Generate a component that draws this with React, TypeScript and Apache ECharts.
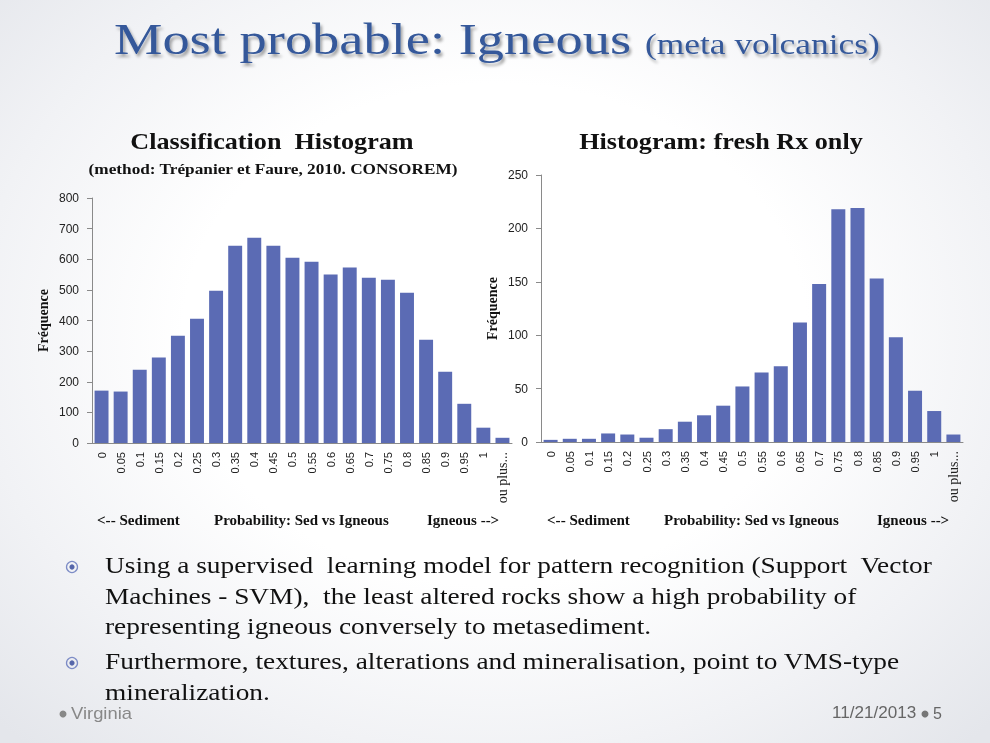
import React, { useEffect, useRef } from "react";
import * as echarts from "echarts";

const categories = [
  "0", "0.05", "0.1", "0.15", "0.2", "0.25", "0.3", "0.35", "0.4", "0.45", "0.5",
  "0.55", "0.6", "0.65", "0.7", "0.75", "0.8", "0.85", "0.9", "0.95", "1", "ou plus...",
];
const classificationCounts = [
  171, 168, 239, 279, 350, 406, 497, 644, 670, 644, 605,
  592, 550, 573, 540, 533, 491, 337, 233, 128, 50, 17,
];
const freshRxCounts = [
  2, 3, 3, 8, 7, 4, 12, 19, 25, 34, 52,
  65, 71, 112, 148, 218, 219, 153, 98, 48, 29, 7,
];
const leftTicks = { min: 0, max: 800, interval: 100 };
const rightTicks = { min: 0, max: 250, interval: 50 };

const bulletLines = [
  "Using a supervised  learning model for pattern recognition (Support  Vector",
  "Machines - SVM),  the least altered rocks show a high probability of",
  "representing igneous conversely to metasediment.",
  "Furthermore, textures, alterations and mineralisation, point to VMS-type",
  "mineralization.",
];

const SERIF = "'Liberation Serif', 'Times New Roman', serif";
const SANS = "'Liberation Sans', Arial, sans-serif";
const BAR = "#5b6bb4";
const AXIS = "#8a8a8a";

function xAxis(gridIndex: number) {
  return {
    type: "category" as const,
    gridIndex,
    data: categories,
    boundaryGap: true,
    axisLine: { lineStyle: { color: AXIS, width: 1 } },
    axisTick: { show: false },
    axisLabel: {
      interval: 0,
      rotate: 90,
      margin: 9,
      fontSize: 11,
      fontFamily: SANS,
      color: "#222",
      formatter: (v: string) => (v === "ou plus..." ? "{s|" + v + "}" : v),
      rich: { s: { fontFamily: SERIF, fontSize: 14, color: "#222" } },
    },
  };
}

function yAxis(gridIndex: number, t: { min: number; max: number; interval: number }) {
  return {
    type: "value" as const,
    gridIndex,
    min: t.min,
    max: t.max,
    interval: t.interval,
    name: "Fréquence",
    nameLocation: "middle" as const,
    nameGap: 42,
    nameTextStyle: { fontFamily: SERIF, fontWeight: "bold" as const, fontSize: 14, color: "#111" },
    axisLine: { show: true, lineStyle: { color: AXIS, width: 1 } },
    axisTick: { show: true, length: 5, lineStyle: { color: AXIS } },
    splitLine: { show: false },
    axisLabel: { margin: 13, fontSize: 12, fontFamily: SANS, color: "#222" },
  };
}

function txt(text: string, x: number, y: number, size: number, opts: any = {}) {
  return {
    type: "text",
    x,
    y,
    scaleX: opts.scaleX ?? 1,
    silent: true,
    style: {
      text,
      fontFamily: opts.family ?? SERIF,
      fontSize: size,
      fontWeight: opts.bold ? "bold" : "normal",
      fill: opts.color ?? "#111",
      align: opts.align ?? "left",
      verticalAlign: "middle",
      textShadowColor: opts.shadow ? "rgba(0,0,0,0.35)" : undefined,
      textShadowBlur: opts.shadow ? 3 : undefined,
      textShadowOffsetX: opts.shadow ? 2 : undefined,
      textShadowOffsetY: opts.shadow ? 3 : undefined,
    },
  };
}

export default function App() {
  const ref = useRef<HTMLDivElement>(null);
  useEffect(() => {
    if (!ref.current) return;
    const chart = echarts.init(ref.current, undefined, { renderer: "svg" });
    const lineYs = [565, 596, 626, 661, 692];
    const graphics: any[] = [
      txt("Most probable: Igneous", 114, 39, 45, { color: "#34589a", scaleX: 1.21, shadow: true }),
      txt("(meta volcanics)", 645, 44, 30, { color: "#34589a", scaleX: 1.18, shadow: true }),
      txt("Classification  Histogram", 272, 141, 24, { bold: true, align: "center", scaleX: 1.09 }),
      txt("(method: Trépanier et Faure, 2010. CONSOREM)", 273, 169, 15, { bold: true, align: "center", scaleX: 1.15 }),
      txt("Histogram: fresh Rx only", 721, 141, 24, { bold: true, align: "center", scaleX: 1.09 }),
      txt("<-- Sediment", 97, 520, 14, { bold: true, scaleX: 1.08 }),
      txt("Probability: Sed vs Igneous", 214, 520, 14, { bold: true, scaleX: 1.07 }),
      txt("Igneous -->", 427, 520, 14, { bold: true, scaleX: 1.07 }),
      txt("<-- Sediment", 547, 520, 14, { bold: true, scaleX: 1.08 }),
      txt("Probability: Sed vs Igneous", 664, 520, 14, { bold: true, scaleX: 1.07 }),
      txt("Igneous -->", 877, 520, 14, { bold: true, scaleX: 1.07 }),
    ];
    bulletLines.forEach((l, i) => graphics.push(txt(l, 105, lineYs[i], 23, { color: "#111", scaleX: 1.19 })));
    [567, 663].forEach((cy) => {
      graphics.push({ type: "circle", shape: { cx: 72, cy, r: 5.5 }, style: { fill: "none", stroke: "#7d8cc6", lineWidth: 1.3 }, silent: true });
      graphics.push({ type: "circle", shape: { cx: 72, cy, r: 2.6 }, style: { fill: "#5566aa" }, silent: true });
    });
    graphics.push({ type: "circle", shape: { cx: 63, cy: 714, r: 3.5 }, style: { fill: "#888" }, silent: true });
    graphics.push(txt("Virginia", 71, 713, 16, { family: SANS, color: "#888", scaleX: 1.15 }));
    graphics.push(txt("11/21/2013", 832, 713, 16, { family: SANS, color: "#666", scaleX: 1.07 }));
    graphics.push({ type: "circle", shape: { cx: 925, cy: 714, r: 3.5 }, style: { fill: "#777" }, silent: true });
    graphics.push(txt("5", 933, 713, 16, { family: SANS, color: "#666" }));

    chart.setOption({
      animation: false,
      backgroundColor: "transparent",
      grid: [
        { left: 92, right: 478, top: 198, bottom: 300, containLabel: false },
        { left: 541, right: 27, top: 175, bottom: 301, containLabel: false },
      ],
      xAxis: [xAxis(0), xAxis(1)],
      yAxis: [yAxis(0, leftTicks), yAxis(1, rightTicks)],
      series: [
        {
          type: "bar",
          xAxisIndex: 0,
          yAxisIndex: 0,
          data: classificationCounts,
          barCategoryGap: "27%",
          itemStyle: { color: BAR },
        },
        {
          type: "bar",
          xAxisIndex: 1,
          yAxisIndex: 1,
          data: freshRxCounts,
          barCategoryGap: "27%",
          itemStyle: { color: BAR },
        },
      ],
      graphic: graphics,
    });
    return () => chart.dispose();
  }, []);
  return (
    <div
      ref={ref}
      style={{
        position: "fixed",
        left: 0,
        top: 0,
        width: 990,
        height: 743,
        background:
          "radial-gradient(ellipse 70% 75% at 50% 45%, #ffffff 45%, #f1f2f5 75%, #e4e6eb 100%)",
      }}
    />
  );
}
